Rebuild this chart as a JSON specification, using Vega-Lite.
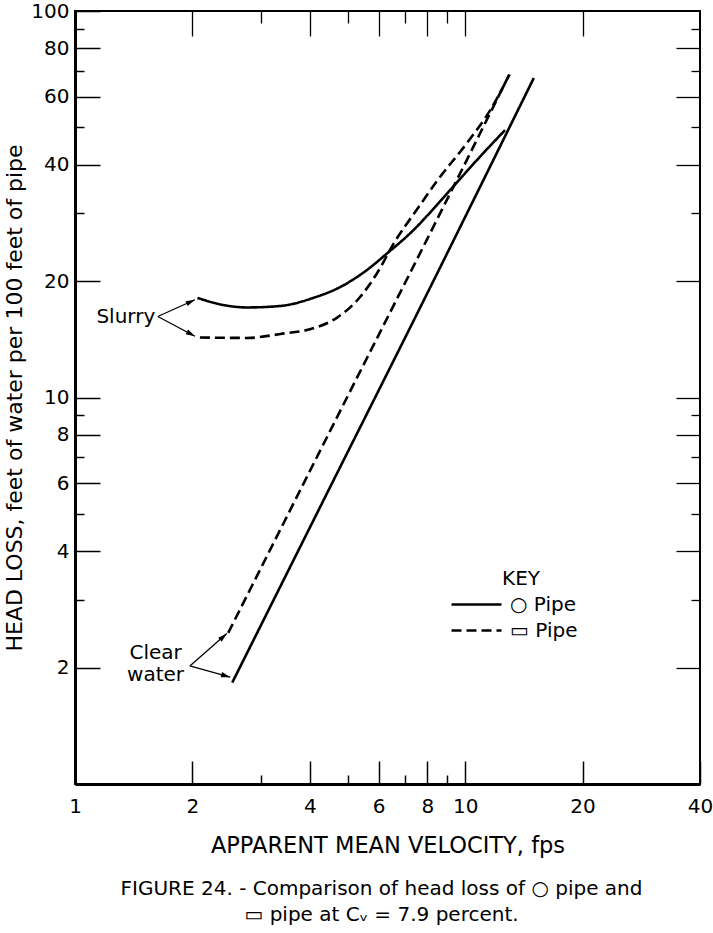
{
  "$schema": "https://vega.github.io/schema/vega-lite/v6.json",
  "width": 625,
  "height": 773,
  "autosize": {"type": "none"},
  "padding": {"left": 75, "top": 11, "right": 13, "bottom": 149},
  "background": "white",
  "config": {
    "font": "DejaVu Sans",
    "view": {"stroke": "black", "strokeWidth": 2},
    "axis": {"labelColor": "black", "titleColor": "black", "tickColor": "black", "domainColor": "black", "grid": false}
  },
  "title": {
    "text": ["FIGURE 24. - Comparison of head loss of  ○ pipe and", "▭ pipe at Cᵥ = 7.9 percent."],
    "orient": "bottom",
    "anchor": "middle",
    "font": "DejaVu Sans",
    "fontSize": 20,
    "fontWeight": "normal",
    "lineHeight": 26,
    "offset": 22,
    "dx": -6,
    "color": "black"
  },
  "datasets": {
    "curves": [
      {"pipe": "○ Pipe", "fluid": "Slurry", "v": 2.06, "h": 18.1},
      {"pipe": "○ Pipe", "fluid": "Slurry", "v": 2.4, "h": 17.35},
      {"pipe": "○ Pipe", "fluid": "Slurry", "v": 2.76, "h": 17.1},
      {"pipe": "○ Pipe", "fluid": "Slurry", "v": 3.36, "h": 17.25},
      {"pipe": "○ Pipe", "fluid": "Slurry", "v": 4.08, "h": 18.1},
      {"pipe": "○ Pipe", "fluid": "Slurry", "v": 4.78, "h": 19.3},
      {"pipe": "○ Pipe", "fluid": "Slurry", "v": 5.61, "h": 21.4},
      {"pipe": "○ Pipe", "fluid": "Slurry", "v": 6.31, "h": 23.6},
      {"pipe": "○ Pipe", "fluid": "Slurry", "v": 7.23, "h": 26.6},
      {"pipe": "○ Pipe", "fluid": "Slurry", "v": 9.15, "h": 34.4},
      {"pipe": "○ Pipe", "fluid": "Slurry", "v": 10.9, "h": 41.9},
      {"pipe": "○ Pipe", "fluid": "Slurry", "v": 12.66, "h": 49.2},
      {"pipe": "○ Pipe", "fluid": "Clear water", "v": 2.53, "h": 1.83},
      {"pipe": "○ Pipe", "fluid": "Clear water", "v": 4.51, "h": 5.87},
      {"pipe": "○ Pipe", "fluid": "Clear water", "v": 7.89, "h": 18.1},
      {"pipe": "○ Pipe", "fluid": "Clear water", "v": 15.0, "h": 67.1},
      {"pipe": "▭ Pipe", "fluid": "Clear water", "v": 2.47, "h": 2.46},
      {"pipe": "▭ Pipe", "fluid": "Clear water", "v": 4.98, "h": 10.0},
      {"pipe": "▭ Pipe", "fluid": "Clear water", "v": 8.79, "h": 31.1},
      {"pipe": "▭ Pipe", "fluid": "Clear water", "v": 13.0, "h": 68.7},
      {"pipe": "▭ Pipe", "fluid": "Slurry", "v": 2.09, "h": 14.3},
      {"pipe": "▭ Pipe", "fluid": "Slurry", "v": 2.76, "h": 14.26},
      {"pipe": "▭ Pipe", "fluid": "Slurry", "v": 3.36, "h": 14.6},
      {"pipe": "▭ Pipe", "fluid": "Slurry", "v": 4.08, "h": 15.1},
      {"pipe": "▭ Pipe", "fluid": "Slurry", "v": 4.7, "h": 16.1},
      {"pipe": "▭ Pipe", "fluid": "Slurry", "v": 5.38, "h": 18.2},
      {"pipe": "▭ Pipe", "fluid": "Slurry", "v": 5.95, "h": 21.0},
      {"pipe": "▭ Pipe", "fluid": "Slurry", "v": 6.6, "h": 25.3},
      {"pipe": "▭ Pipe", "fluid": "Slurry", "v": 7.5, "h": 30.5},
      {"pipe": "▭ Pipe", "fluid": "Slurry", "v": 8.5, "h": 36.5},
      {"pipe": "▭ Pipe", "fluid": "Slurry", "v": 10.1, "h": 45.5},
      {"pipe": "▭ Pipe", "fluid": "Slurry", "v": 11.6, "h": 55.4},
      {"pipe": "▭ Pipe", "fluid": "Slurry", "v": 13.0, "h": 68.5}
    ],
    "arrows": [
      {"note": "Slurry", "x1": 1.63, "y1": 16.2, "x2": 2.03, "y2": 17.9},
      {"note": "Slurry", "x1": 1.63, "y1": 16.2, "x2": 2.03, "y2": 14.4},
      {"note": "Clear water", "x1": 1.97, "y1": 2.02, "x2": 2.45, "y2": 2.45},
      {"note": "Clear water", "x1": 1.97, "y1": 2.02, "x2": 2.5, "y2": 1.89}
    ],
    "notes": [
      {"text": "Slurry", "x": 1.35, "y": 16.2},
      {"text": "Clear", "x": 1.609, "y": 2.18},
      {"text": "water", "x": 1.609, "y": 1.915}
    ]
  },
  "layer": [
    {
      "data": {"name": "curves"},
      "mark": {"type": "line", "color": "black", "strokeWidth": 2.6, "interpolate": "monotone"},
      "encoding": {
        "x": {
          "field": "v", "type": "quantitative",
          "scale": {"type": "log", "domain": [1, 40], "nice": false},
          "axis": {
            "orient": "bottom",
            "values": [1, 2, 3, 4, 5, 6, 7, 8, 9, 10, 20, 40],
            "title": "APPARENT MEAN VELOCITY, fps",
            "labelExpr": "indexof([1,2,4,6,8,10,20,40], datum.value) >= 0 ? '' + datum.value : ''",
            "tickSize": {"condition": {"test": "indexof([3,5,7,9], datum.value) >= 0", "value": -9}, "value": -23},
            "tickWidth": 1.5,
            "labelPadding": 35,
            "labelFontSize": 20,
            "labelOverlap": false,
            "labelFlush": false,
            "labelBound": false,
            "domainWidth": 3,
            "titleFontSize": 22.5,
            "titleFontWeight": "normal",
            "titlePadding": 4
          }
        },
        "y": {
          "field": "h", "type": "quantitative",
          "scale": {"type": "log", "domain": [1, 100], "nice": false},
          "axis": {
            "orient": "left",
            "values": [1, 2, 3, 4, 5, 6, 7, 8, 9, 10, 20, 30, 40, 50, 60, 70, 80, 90, 100],
            "title": "HEAD LOSS, feet of water per 100 feet of pipe",
            "labelExpr": "indexof([2,4,6,8,10,20,40,60,80,100], datum.value) >= 0 ? '' + datum.value : ''",
            "tickSize": {"condition": {"test": "indexof([3,5,7,9,30,50,70,90], datum.value) >= 0", "value": -9}, "value": -25},
            "tickWidth": 1.5,
            "labelPadding": 31,
            "labelFontSize": 20,
            "labelOverlap": false,
            "labelFlush": false,
            "labelBound": false,
            "domainWidth": 3,
            "titleFontSize": 22,
            "titleFontWeight": "normal",
            "titlePadding": 4
          }
        },
        "strokeDash": {
          "field": "pipe", "type": "nominal",
          "scale": {"domain": ["○ Pipe", "▭ Pipe"], "range": [[1, 0], [10, 5]]},
          "legend": {
            "title": "KEY",
            "orient": "none",
            "legendX": 390,
            "legendY": 558,
            "symbolType": "M-2.5,0L2.5,0",
            "symbolSize": 400,
            "symbolStrokeWidth": 2.5,
            "symbolStrokeColor": "black",
            "symbolFillColor": "transparent",
            "labelFontSize": 20,
            "labelColor": "black",
            "labelOffset": 22,
            "titleFontSize": 20,
            "titleFontWeight": "normal",
            "titleColor": "black",
            "titleAnchor": "middle",
            "titlePadding": 4,
            "rowPadding": 4,
            "padding": 0
          }
        },
        "detail": {"field": "fluid"}
      }
    },
    {
      "data": {"name": "arrows"},
      "mark": {"type": "rule", "color": "black", "strokeWidth": 1.3},
      "encoding": {
        "x": {
          "field": "x1", "type": "quantitative",
          "scale": {"type": "log", "domain": [1, 40], "nice": false},
          "axis": {
            "orient": "top",
            "values": [2, 3, 4, 5, 6, 7, 8, 9, 10, 20],
            "labels": false,
            "title": null,
            "domain": false,
            "tickSize": {"condition": {"test": "indexof([3,5,7,9], datum.value) >= 0", "value": -12}, "value": -25},
            "tickWidth": 1.3
          }
        },
        "y": {
          "field": "y1", "type": "quantitative",
          "scale": {"type": "log", "domain": [1, 100], "nice": false},
          "axis": {
            "orient": "right",
            "values": [2, 3, 4, 5, 6, 7, 8, 9, 10, 20, 30, 40, 50, 60, 70, 80, 90],
            "labels": false,
            "title": null,
            "domain": false,
            "tickSize": {"condition": {"test": "indexof([3,5,7,9,30,50,70,90], datum.value) >= 0", "value": -9}, "value": -24},
            "tickWidth": 1.3
          }
        },
        "x2": {"field": "x2"},
        "y2": {"field": "y2"}
      }
    },
    {
      "data": {"name": "arrows"},
      "transform": [
        {"calculate": "atan2(log(datum.x2 / datum.x1), log(datum.y2 / datum.y1)) * 180 / PI", "as": "angle"}
      ],
      "mark": {"type": "point", "shape": "M0,0L-0.38,1.3L0.38,1.3Z", "filled": true, "color": "black", "opacity": 1, "size": 200},
      "encoding": {
        "x": {"field": "x2", "type": "quantitative", "axis": null},
        "y": {"field": "y2", "type": "quantitative", "axis": null},
        "angle": {"field": "angle", "type": "quantitative", "scale": null}
      }
    },
    {
      "data": {"name": "notes"},
      "mark": {"type": "text", "fontSize": 20, "color": "black", "align": "center", "baseline": "middle"},
      "encoding": {
        "x": {"field": "x", "type": "quantitative", "axis": null},
        "y": {"field": "y", "type": "quantitative", "axis": null},
        "text": {"field": "text"}
      }
    }
  ],
  "resolve": {"axis": {"x": "independent", "y": "independent"}}
}
